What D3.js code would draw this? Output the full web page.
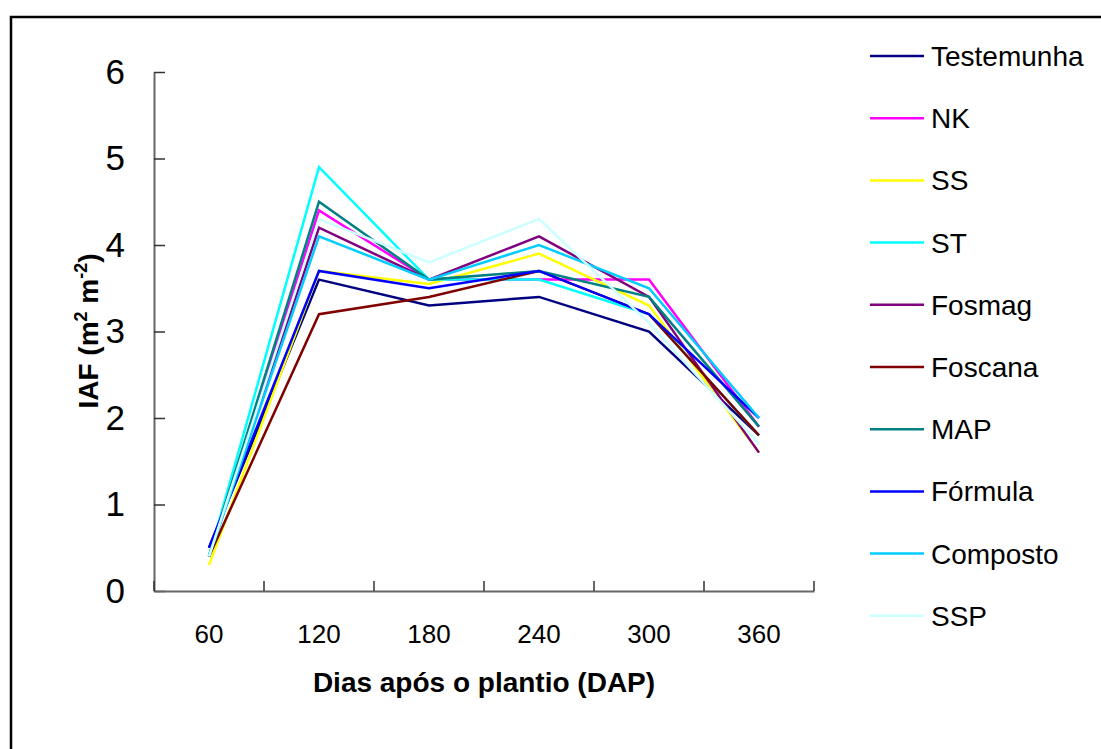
<!DOCTYPE html>
<html>
<head>
<meta charset="utf-8">
<script src="https://cdn.jsdelivr.net/npm/d3@7"></script>
<style>
  body { margin: 0; background: #fff; }
  text { font-family: Arial, "Liberation Sans", sans-serif; }
</style>
</head>
<body>
<script>
//Days after planting (categories)
var dias = ["60", "120", "180", "240", "300", "360"];

//One array per treatment, IAF values
var testemunha = [0.5, 3.6, 3.3, 3.4, 3.0, 1.8];
var nk         = [0.4, 4.4, 3.6, 3.6, 3.6, 1.9];
var ss         = [0.3, 3.7, 3.55, 3.9, 3.3, 1.6];
var st         = [0.4, 4.9, 3.6, 3.6, 3.2, 1.8];
var fosmag     = [0.4, 4.2, 3.6, 4.1, 3.4, 1.6];
var foscana    = [0.4, 3.2, 3.4, 3.7, 3.2, 1.8];
var map        = [0.4, 4.5, 3.6, 3.7, 3.4, 1.9];
var formula    = [0.5, 3.7, 3.5, 3.7, 3.2, 2.0];
var composto   = [0.4, 4.1, 3.6, 4.0, 3.5, 2.0];
var ssp        = [0.4, 4.3, 3.8, 4.3, 3.1, 1.7];

var nomes = ["Testemunha", "NK", "SS", "ST", "Fosmag", "Foscana", "MAP", "Fórmula", "Composto", "SSP"];
var cores = ["#000080", "#ff00ff", "#ffff00", "#00ffff", "#800080", "#800000", "#008080", "#0000ff", "#00ccff", "#ccffff"];
var valores = [testemunha, nk, ss, st, fosmag, foscana, map, formula, composto, ssp];

var yTicks = [0, 1, 2, 3, 4, 5, 6];

var w = 1101;
var h = 749;

var series = nomes.map(function(n, i) {
    return { nome: n, cor: cores[i], vals: valores[i] };
});

var svg = d3.select("body")
            .append("svg")
            .attr("width", w)
            .attr("height", h);

//outer frame (runs off the right and bottom edge like the original)
svg.append("rect")
    .attr("x", 11).attr("y", 17)
    .attr("width", 1110).attr("height", 760)
    .attr("fill", "none")
    .attr("stroke", "#000")
    .attr("stroke-width", 2.5);

var xScale = d3.scaleBand()
            .domain(dias)
            .range([154, 814])
            .padding(0);

var yScale = d3.scaleLinear()
            .domain([0, 6])
            .range([591, 72]);

//Y axis, ticks point inside
var yAxis = d3.axisLeft(yScale)
            .tickValues(yTicks)
            .tickFormat(d3.format("d"))
            .tickSizeInner(-11)
            .tickSizeOuter(0)
            .tickPadding(29);

var gy = svg.append("g")
    .attr("transform", "translate(154,0)")
    .call(yAxis);
gy.select(".domain").attr("stroke", "#666").attr("stroke-width", 2);
gy.selectAll(".tick line").attr("stroke", "#333").attr("stroke-width", 1.5);
gy.selectAll(".tick text")
    .attr("font-size", 35)
    .attr("fill", "#000")
    .attr("font-family", "Arial, 'Liberation Sans', sans-serif");

//X axis: labels at band centres, ticks at band edges
var xAxis = d3.axisBottom(xScale)
            .tickSize(0)
            .tickPadding(0);

var gx = svg.append("g")
    .attr("transform", "translate(0,591)")
    .call(xAxis);
gx.select(".domain").attr("stroke", "#666").attr("stroke-width", 2);
gx.selectAll(".tick text")
    .attr("font-size", 26)
    .attr("fill", "#000")
    .attr("y", 52)
    .attr("dy", 0)
    .attr("font-family", "Arial, 'Liberation Sans', sans-serif");

var bordas = dias.map(function(d) { return xScale(d); }).concat([xScale.range()[1]]);
svg.append("g").selectAll("line")
    .data(bordas)
    .enter()
    .append("line")
    .attr("x1", function(d) { return d; })
    .attr("x2", function(d) { return d; })
    .attr("y1", 591)
    .attr("y2", 581)
    .attr("stroke", "#333")
    .attr("stroke-width", 1.5);

//Line generator
var line = d3.line()
            .x(function(d, i) { return xScale(dias[i]) + xScale.bandwidth() / 2; })
            .y(function(d) { return yScale(d); });

svg.append("g").selectAll("path")
    .data(series)
    .enter()
    .append("path")
    .attr("d", function(d) { return line(d.vals); })
    .attr("fill", "none")
    .attr("stroke", function(d) { return d.cor; })
    .attr("stroke-width", 2.5)
    .attr("stroke-linejoin", "miter");

//Axis titles
svg.append("text")
    .attr("x", 484)
    .attr("y", 692)
    .attr("text-anchor", "middle")
    .attr("font-size", 28)
    .attr("font-weight", "bold")
    .text("Dias após o plantio (DAP)");

var yt = svg.append("text")
    .attr("transform", "translate(98,331) rotate(-90)")
    .attr("text-anchor", "middle")
    .attr("font-size", 28)
    .attr("font-weight", "bold");
yt.append("tspan").text("IAF (m");
yt.append("tspan").attr("font-size", 18).attr("dy", -11).text("2");
yt.append("tspan").attr("dy", 11).text(" m");
yt.append("tspan").attr("font-size", 18).attr("dy", -11).text("-2");
yt.append("tspan").attr("dy", 11).text(")");

//Legend
var leg = svg.append("g").selectAll("g")
    .data(series)
    .enter()
    .append("g")
    .attr("transform", function(d, i) { return "translate(0," + (56 + i * 62.2) + ")"; });

leg.append("line")
    .attr("x1", 870).attr("x2", 924)
    .attr("y1", 0).attr("y2", 0)
    .attr("stroke", function(d) { return d.cor; })
    .attr("stroke-width", 2.5);

leg.append("text")
    .attr("x", 931)
    .attr("y", 0)
    .attr("dy", "0.36em")
    .attr("font-size", 28)
    .text(function(d) { return d.nome; });
</script>
</body>
</html>
